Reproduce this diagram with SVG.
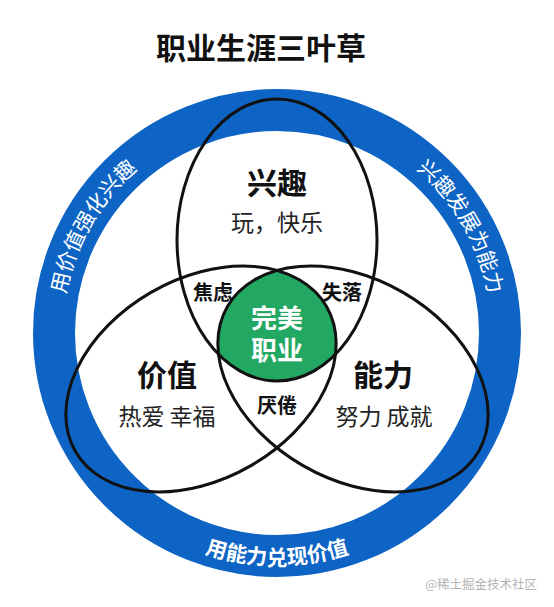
<svg xmlns="http://www.w3.org/2000/svg" width="554" height="607" viewBox="0 0 554 607">
<style>
text{font-family:"Noto Sans CJK SC","Noto Sans",sans-serif;text-anchor:middle}
.b{font-weight:bold;fill:#111}
.r{font-weight:normal;fill:#222}
.ring{font-size:21px;fill:#fff}
.ell{fill:none;stroke:#111;stroke-width:3}
.w{font-weight:bold;fill:#fff}
</style>
<defs>
<path id="arcL" d="M 91 440.4 A 215 215 0 0 1 277 118"/>
<path id="arcR" d="M 277 118 A 215 215 0 0 1 463 440.4"/>
<path id="arcB" d="M 76.1 449 A 232 232 0 0 0 477.9 449"/>
<clipPath id="cL"><ellipse cx="0" cy="0" rx="145" ry="100" transform="translate(201 379) rotate(-30)"/></clipPath>
<clipPath id="cR"><ellipse cx="0" cy="0" rx="145" ry="100" transform="translate(353 379) rotate(30)"/></clipPath>
</defs>
<rect width="554" height="607" fill="#fff"/>
<g id="title"><text class="b" x="261" y="59" font-size="30">职业生涯三叶草</text></g>
<g id="ring">
<circle cx="277" cy="333" r="223" fill="none" stroke="#0e64c4" stroke-width="42"/>
<text class="ring"><textPath href="#arcL" startOffset="50%">用价值强化兴趣</textPath></text>
<text class="ring"><textPath href="#arcR" startOffset="50%">兴趣发展为能力</textPath></text>
<text class="ring" font-weight="bold"><textPath href="#arcB" startOffset="50%">用能力兑现价值</textPath></text>
</g>
<g id="center">
<g clip-path="url(#cL)"><g clip-path="url(#cR)"><ellipse cx="277" cy="240" rx="100" ry="141" fill="#22a862"/></g></g>
</g>
<g id="interest">
<ellipse class="ell" cx="277" cy="240" rx="100" ry="141"/>
<text class="b" x="277" y="194" font-size="30">兴趣</text>
<text class="r" x="277" y="231" font-size="23">玩，快乐</text>
</g>
<g id="value">
<ellipse class="ell" cx="0" cy="0" rx="145" ry="100" transform="translate(201 379) rotate(-30)"/>
<text class="b" x="167" y="386" font-size="30">价值</text>
<text class="r" x="167" y="425" font-size="23">热爱 幸福</text>
</g>
<g id="ability">
<ellipse class="ell" cx="0" cy="0" rx="145" ry="100" transform="translate(353 379) rotate(30)"/>
<text class="b" x="383" y="386" font-size="30">能力</text>
<text class="r" x="384" y="425" font-size="23">努力 成就</text>
</g>
<g id="overlaps">
<text class="b" x="213" y="300" font-size="20">焦虑</text>
<text class="b" x="342" y="300" font-size="20">失落</text>
<text class="b" x="277" y="413" font-size="20">厌倦</text>
<text class="w" font-size="26"><tspan x="277" y="328">完美</tspan><tspan x="277" y="360">职业</tspan></text>
</g>
<g id="watermark"><text x="537" y="589" font-size="12.5" fill="#b4b4b4" style="text-anchor:end">@稀土掘金技术社区</text></g>
</svg>
